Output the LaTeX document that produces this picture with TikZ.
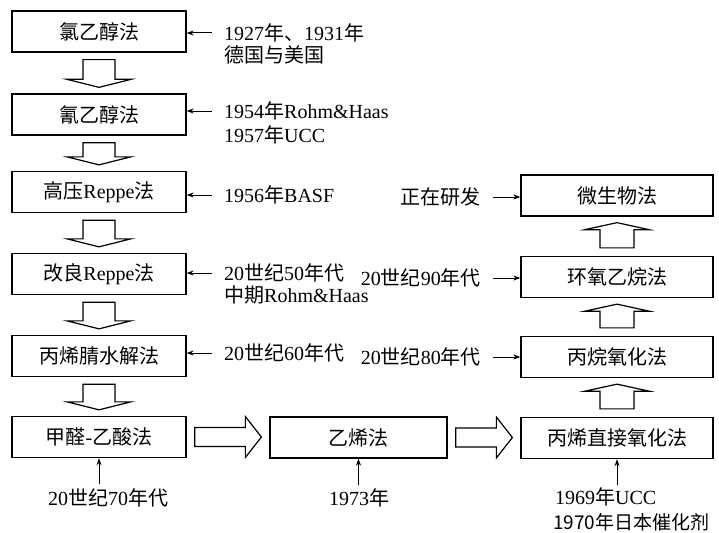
\documentclass[tikz,border=0pt]{standalone}
\usepackage{fontspec}
\setmainfont{Liberation Serif}
\newfontfamily\cjk{Noto Sans CJK SC}
\usetikzlibrary{arrows.meta,calc}
\newcommand\zh[1]{{\cjk #1}}
\newcommand\dnarr[2]{%
 \draw[blk] let \p1=(#1.south), \p2=(#2.north) in
 (\x1-16pt,\y1-7pt) -- (\x1+16pt,\y1-7pt) -- (\x1+16pt,\y2+14pt) -- (\x1+32pt,\y2+14pt) -- (\x1,\y2+6pt) -- (\x1-32pt,\y2+14pt) -- (\x1-16pt,\y2+14pt) -- cycle;}
\newcommand\uparr[2]{%
 \draw[blk] let \p1=(#1.north), \p2=(#2.south) in
 (\x1-17pt,\y1+8pt) -- (\x1+17pt,\y1+8pt) -- (\x1+17pt,\y2-13pt) -- (\x1+32pt,\y2-13pt) -- (\x1,\y2-6pt) -- (\x1-32pt,\y2-13pt) -- (\x1-17pt,\y2-13pt) -- cycle;}
\newcommand\rtarr[2]{%
 \draw[blk] let \p1=(#1.east), \p2=(#2.west) in
 (\x1+8pt,\y1+9.5pt) -- (\x2-24pt,\y1+9.5pt) -- (\x2-24pt,\y1+20.5pt) -- (\x2-8pt,\y1) -- (\x2-24pt,\y1-20.5pt) -- (\x2-24pt,\y1-9.5pt) -- (\x1+8pt,\y1-9.5pt) -- cycle;}
\begin{document}
\begin{tikzpicture}[x=1pt,y=-1pt,font=\fontsize{20}{24}\selectfont,
  box/.style={draw,line width=1.3pt,minimum height=41pt,inner sep=0pt},
  blk/.style={draw,line width=1.2pt,fill=white,line join=miter},
  lab/.style={inner sep=0pt,anchor=west},
  rlab/.style={inner sep=0pt,anchor=east},
  clab/.style={inner sep=0pt},
  ptr/.style={-{Stealth[length=7pt,width=5pt]},line width=1pt}]
\useasboundingbox (0,0) rectangle (719,532);
% left column
\node[box,minimum width=174pt] (b1) at (99,31.5) {\zh{氯乙醇法}};
\node[box,minimum width=174pt] (b2) at (99,114.5) {\zh{氰乙醇法}};
\node[box,minimum width=174pt] (b3) at (99,192) {\zh{高压}Reppe\zh{法}};
\node[box,minimum width=174pt] (b4) at (99,274) {\zh{改良}Reppe\zh{法}};
\node[box,minimum width=174pt] (b5) at (99,356) {\zh{丙烯腈水解法}};
\node[box,minimum width=174pt] (b6) at (99,437) {\zh{甲醛}-\zh{乙酸法}};
% bottom row / right column
\node[box,minimum width=177pt] (b7) at (358.5,437.5) {\zh{乙烯法}};
\node[box,minimum width=192pt] (b8) at (617,438) {\zh{丙烯直接氧化法}};
\node[box,minimum width=192pt] (b9) at (617,357) {\zh{丙烷氧化法}};
\node[box,minimum width=192pt] (b10) at (617,277) {\zh{环氧乙烷法}};
\node[box,minimum width=192pt] (b11) at (617,195.5) {\zh{微生物法}};
% block arrows
\dnarr{b1}{b2}
\dnarr{b2}{b3}
\dnarr{b3}{b4}
\dnarr{b4}{b5}
\dnarr{b5}{b6}
\rtarr{b6}{b7}
\rtarr{b7}{b8}
\uparr{b8}{b9}
\uparr{b9}{b10}
\uparr{b10}{b11}
% left labels
\node[lab] (l1) at (224,33) {1927\zh{年、}1931\zh{年}};
\node[lab] (l1b) at (224,55) {\zh{德国与美国}};
\node[lab] (l2) at (224,111) {1954\zh{年}Rohm\&Haas};
\node[lab] (l2b) at (224,135) {1957\zh{年}UCC};
\node[lab] (l3) at (224,195) {1956\zh{年}BASF};
\node[lab] (l4) at (224,273) {20\zh{世纪}50\zh{年代}};
\node[lab] (l4b) at (224,295) {\zh{中期}Rohm\&Haas};
\node[lab] (l5) at (224,353) {20\zh{世纪}60\zh{年代}};
\draw[ptr] ([xshift=-12pt]l1.west) -- (l1.west -| b1.east);
\draw[ptr] ([xshift=-12pt]l2.west) -- (l2.west -| b2.east);
\draw[ptr] ([xshift=-12pt]l3.west) -- (l3.west -| b3.east);
\draw[ptr] ([xshift=-12pt]l4.west) -- (l4.west -| b4.east);
\draw[ptr] ([xshift=-12pt]l5.west) -- (l5.west -| b5.east);
% right labels
\node[rlab] (r1) at (481,197) {\zh{正在研发}};
\node[rlab] (r2) at (481,278) {20\zh{世纪}90\zh{年代}};
\node[rlab] (r3) at (481,357) {20\zh{世纪}80\zh{年代}};
\draw[ptr] ([xshift=12pt]r1.east) -- (r1.east -| b11.west);
\draw[ptr] ([xshift=12pt]r2.east) -- (r2.east -| b10.west);
\draw[ptr] ([xshift=12pt]r3.east) -- (r3.east -| b9.west);
% bottom labels
\node[clab] (d1) at (108,498) {20\zh{世纪}70\zh{年代}};
\node[clab] (d2) at (359,498) {1973\zh{年}};
\node[lab] (d3) at (555,497) {1969\zh{年}UCC};
\node[lab,font=\fontsize{19}{23}\selectfont] (d4) at (553,522) {\zh{1970年日本催化剂}};
\draw[ptr] ([yshift=-26pt]b6.south) -- (b6.south);
\draw[ptr] ([yshift=-26pt]b7.south) -- (b7.south);
\draw[ptr] ([yshift=-26pt]b8.south) -- (b8.south);
\end{tikzpicture}
\end{document}
